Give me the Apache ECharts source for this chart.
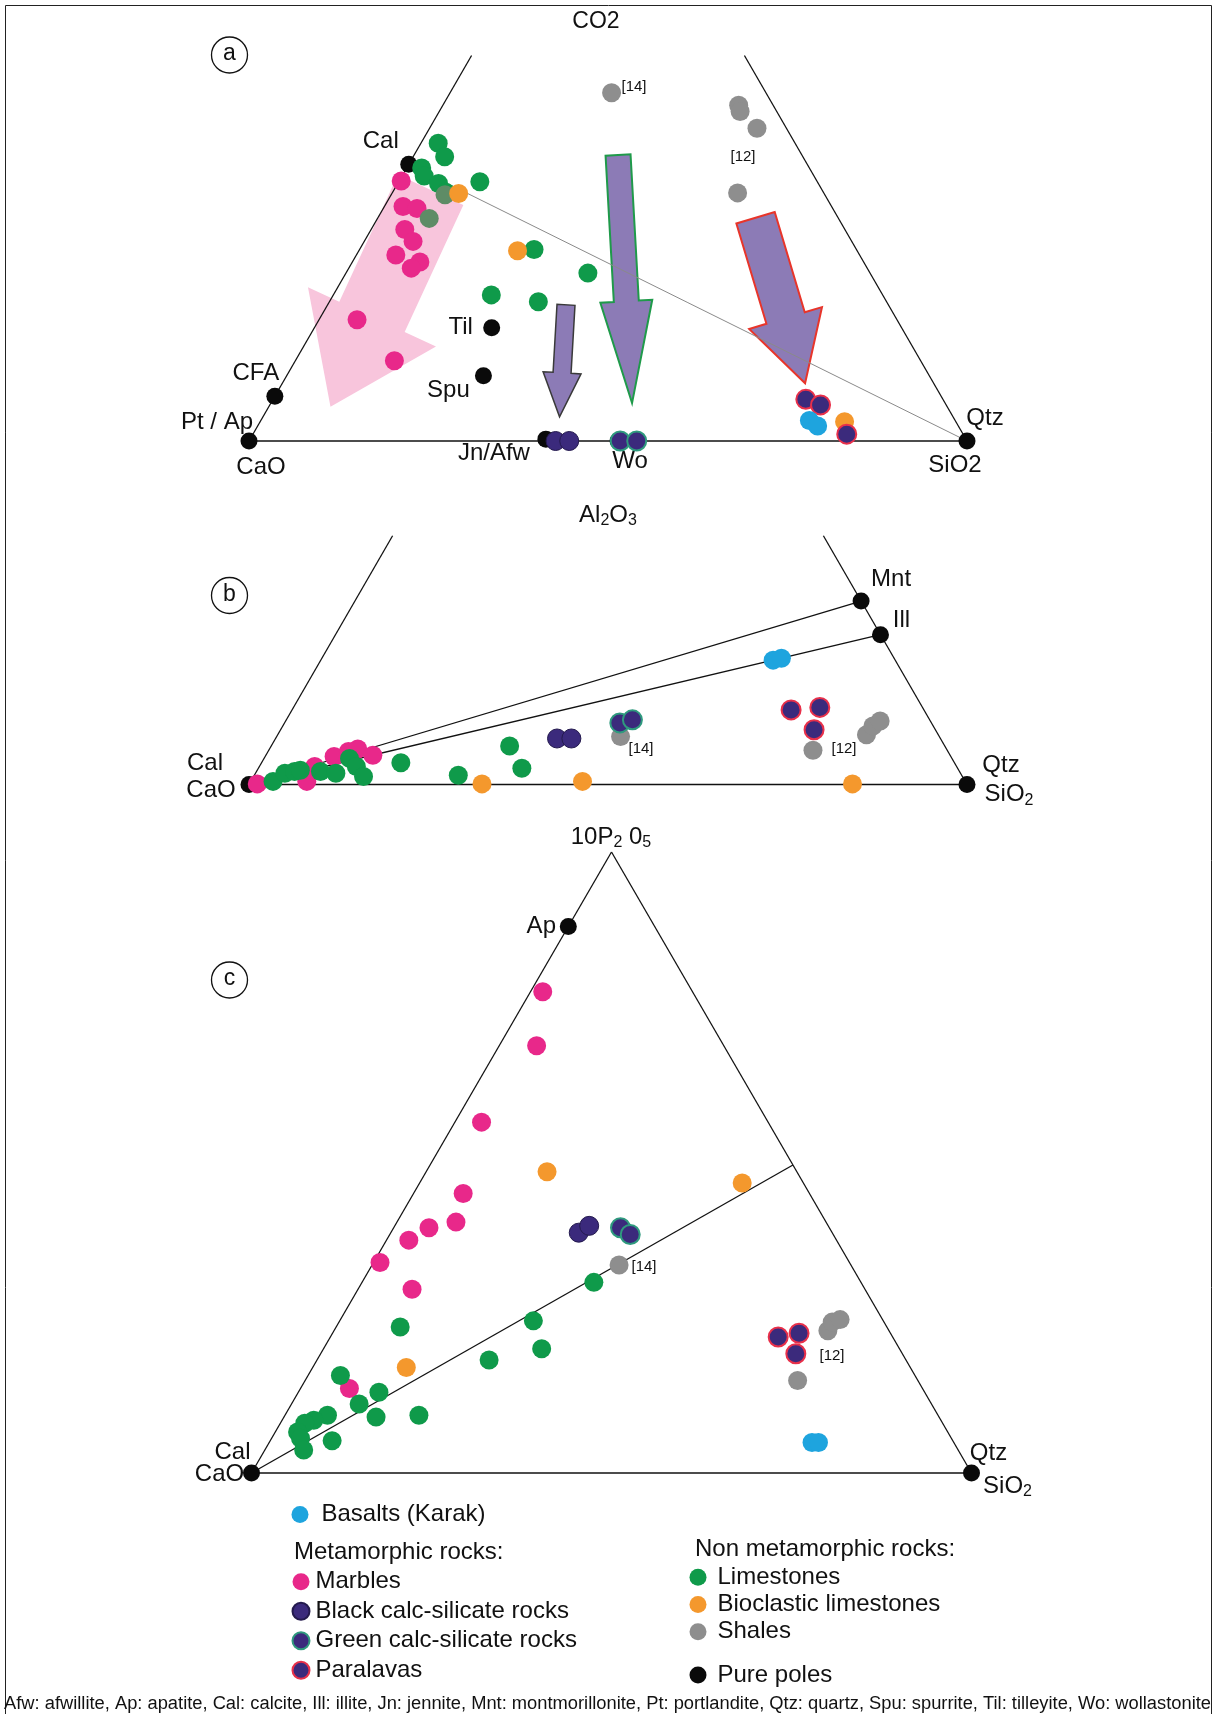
<!DOCTYPE html>
<html><head><meta charset="utf-8">
<script src="https://cdn.jsdelivr.net/npm/echarts@6/dist/echarts.min.js"></script>
<style>html,body{margin:0;padding:0;background:#fff}#chart{width:1215px;height:1714px}</style>
</head><body><div id="chart"></div>
<script>
// ===== DATA: ternary compositions in %, stored as [SiO2, top pole]; CaO = 100 - both =====
// Panel a : CaO - SiO2 - CO2
const marblesA = [[0.3,41.8],[2.6,37.7],[4.7,37.4],[4.7,34.0],[6.8,32.1],[5.5,29.9],[9.4,28.8],[8.7,27.8],[5.3,19.5],[13.8,12.9]];
const limestonesA = [[2.4,47.9],[4.4,45.7],[2.1,43.9],[3.1,42.6],[5.7,41.4],[7.4,40.0],[11.3,41.7],[24.3,30.8],[33.7,27.0],[22.0,23.5],[29.1,22.4]];
const limestonesMixedA = [[7.5,39.6],[7.2,35.8]];
const bioclasticA = [[9.3,39.8],[22.1,30.6],[81.4,3.1]];
const shalesA = [[22.5,56.0],[41.2,54.0],[41.9,53.0],[45.6,50.3],[48.1,39.9]];
const blackCalcA = [[42.7,0],[44.6,0]];
const greenCalcA = [[51.7,0],[54.0,0]];
const paralavasA = [[74.2,6.7],[76.7,5.8],[82.7,1.1]];
const basaltsA = [[76.4,3.3],[78.0,2.4]];
const poleNamesA = ['Pt / Ap','CFA','Cal','Til','Spu','Jn/Afw','Wo','Qtz'];
const polesA = [[0,0],[0,7.2],[0,44.5],[24.7,18.2],[27.4,10.5],[41.2,0.3],[51.4,0],[100,0]];
const tieLinesA = [[[0,44.5],[100,0]]];
const trendArrowsA = [[5.1,40.4,8.6,5.5],[33.2,21.9,41.3,3.9],[28.4,46.0,50.3,6.1],[52.6,35.9,72.8,9.3]];

// Panel b : CaO - SiO2 - Al2O3
const marblesB = [[1.1,0.1],[7.8,0.5],[7.7,2.9],[9.6,4.5],[11.2,5.3],[12.3,5.7],[14.9,4.7]];
const limestonesB = [[3.1,0.5],[4.1,1.8],[5.3,2.1],[6.0,2.3],[8.9,2.1],[11.2,1.8],[11.9,4.2],[13.5,2.9],[15.3,1.3],[19.4,3.5],[28.4,1.5],[33.2,6.2],[36.7,2.6]];
const bioclasticB = [[32.4,0.1],[46.2,0.5],[84.0,0.1]];
const shalesB = [[47.9,7.7],[82.0,8.0],[82.2,9.4],[82.8,10.2],[75.8,5.5]];
const blackCalcB = [[39.2,7.4],[41.2,7.4]];
const greenCalcB = [[46.7,9.9],[48.2,10.4]];
const paralavasB = [[69.5,12.0],[73.3,12.4],[74.3,8.8]];
const basaltsB = [[63.0,20.0],[64.0,20.3]];
const poleNamesB = ['Cal','Mnt','Ill','Qtz'];
const polesB = [[0,0],[70.5,29.5],[75.9,24.1],[100,0]];
const tieLinesB = [[[0,0],[70.5,29.5]],[[0,0],[75.9,24.1]]];

// Panel c : CaO - SiO2 - 10P2O5
const marblesC = [[1.7,77.5],[5.2,68.8],[3.7,56.5],[6.9,45.0],[8.2,40.4],[4.9,39.5],[3.1,37.5],[0.9,33.9],[7.5,29.6],[6.8,13.6]];
const limestonesC = [[8.9,23.5],[4.5,15.7],[9.4,11.1],[11.2,13.0],[12.8,9.0],[18.6,9.3],[5.9,9.3],[4.4,8.5],[3.4,8.0],[3.1,6.6],[4.0,5.6],[5.4,3.7],[8.6,5.2],[23.9,18.2],[30.3,20.0],[26.9,24.5],[32.2,30.7]];
const bioclasticC = [[16.8,48.5],[44.8,46.7],[13.0,17.0]];
const shalesC = [[34.3,33.5],[68.6,22.9],[68.5,24.3],[69.4,24.7],[68.4,14.9]];
const blackCalcC = [[26.1,38.7],[27.0,39.8]];
const greenCalcC = [[31.5,39.5],[33.4,38.4]];
const paralavasC = [[62.2,21.9],[64.8,22.5],[66.0,19.2]];
const basaltsC = [[75.4,4.9],[76.3,4.9]];
const poleNamesC = ['Cal','Ap','Qtz'];
const polesC = [[0,0],[0,88],[100,0]];
const tieLinesC = [[[0,0],[50.4,49.6]]];

const vertexNames = ['CaO','SiO2'];
const vertices = [[0,0],[100,0]];

const legendBasalt = ['Basalts (Karak)'];
const legendMeta = ['Marbles','Black calc-silicate rocks','Green calc-silicate rocks','Paralavas'];
const legendNonMeta = ['Limestones','Bioclastic limestones','Shales'];
const legendPoles = ['Pure poles'];
const footerText = 'Afw: afwillite, Ap: apatite, Cal: calcite, Ill: illite, Jn: jennite, Mnt: montmorillonite, Pt: portlandite, Qtz: quartz, Spu: spurrite, Til: tilleyite, Wo: wollastonite';

// ===== STYLE / LAYOUT =====
const FONT = "'Liberation Sans', Arial, Helvetica, sans-serif";
const INK = '#111111';
const PANELS = [
  { left: 249, width: 718, base: 441, fullH: 621.8, tmax: 62 },
  { left: 249, width: 718, base: 784.5, fullH: 621.8, tmax: 40 },
  { left: 251.5, width: 720, base: 1473, fullH: 621, tmax: 100 }
];
const CAT_STYLE = {
  'Marbles': { color: '#e8288a', opacity: 1 },
  'Limestones': { color: '#0f9a4a', opacity: 1 },
  'Bioclastic limestones': { color: '#f4982d', opacity: 1 },
  'Shales': { color: '#8e8e8e', opacity: 1 },
  'Black calc-silicate rocks': { color: '#3b2a7c', borderColor: '#241a4e', borderWidth: 1, opacity: 1 },
  'Green calc-silicate rocks': { color: '#3b2a7c', borderColor: '#2f9a7e', borderWidth: 2, opacity: 1 },
  'Paralavas': { color: '#3b2a7c', borderColor: '#e8304a', borderWidth: 2, opacity: 1 },
  'Basalts (Karak)': { color: '#1ea4de', opacity: 1 },
  'Pure poles': { color: '#0a0a0a', opacity: 1 }
};
const CAT_ORDER = ['Marbles','Limestones','Bioclastic limestones','Shales','Black calc-silicate rocks','Green calc-silicate rocks','Paralavas','Basalts (Karak)'];
const PANEL_DATA = [
  { 'Marbles': marblesA, 'Limestones': limestonesA, 'Bioclastic limestones': bioclasticA, 'Shales': shalesA, 'Black calc-silicate rocks': blackCalcA, 'Green calc-silicate rocks': greenCalcA, 'Paralavas': paralavasA, 'Basalts (Karak)': basaltsA },
  { 'Marbles': marblesB, 'Limestones': limestonesB, 'Bioclastic limestones': bioclasticB, 'Shales': shalesB, 'Black calc-silicate rocks': blackCalcB, 'Green calc-silicate rocks': greenCalcB, 'Paralavas': paralavasB, 'Basalts (Karak)': basaltsB },
  { 'Marbles': marblesC, 'Limestones': limestonesC, 'Bioclastic limestones': bioclasticC, 'Shales': shalesC, 'Black calc-silicate rocks': blackCalcC, 'Green calc-silicate rocks': greenCalcC, 'Paralavas': paralavasC, 'Basalts (Karak)': basaltsC }
];
const POLES = [[poleNamesA, polesA], [poleNamesB, polesB], [poleNamesC, polesC]];
const TIES = [tieLinesA, tieLinesB, tieLinesC];
const POLE_LABEL_OFFSET = [
  { 'Pt / Ap': [-32,-19], 'CFA': [-19,-23], 'Cal': [-28,-23], 'Til': [-31,0], 'Spu': [-35,15], 'Jn/Afw': [-52,14], 'Wo': [12,20], 'Qtz': [18,-23] },
  { 'Cal': [-44,-21], 'Mnt': [30,-22], 'Ill': [21,-14], 'Qtz': [34,-19] },
  { 'Cal': [-19,-21], 'Ap': [-27,0], 'Qtz': [17,-20] }
];
const VERTEX_LABEL_OFFSET = [ [[12,26],[-12,24]], [[-38,6],[42,10]], [[-32,1],[36,13]] ];
const VERTEX_SUB = [false, true, true];
const ARROW_STYLE = [
  { shaft: 72, head: 141, headLen: 99, fill: '#f8c5dc', stroke: 'rgba(0,0,0,0)', lw: 0 },
  { shaft: 18, head: 38, headLen: 44, fill: '#8c7bb6', stroke: '#3a3a3a', lw: 1.5 },
  { shaft: 25, head: 52, headLen: 102, fill: '#8c7bb6', stroke: '#1f9a4a', lw: 2 },
  { shaft: 40, head: 76, headLen: 68, fill: '#8c7bb6', stroke: '#e8352a', lw: 2 }
];
const RICH = {
  n: { fontSize: 24, fontFamily: FONT, color: INK, lineHeight: 28, verticalAlign: 'middle' },
  s: { fontSize: 16, fontFamily: FONT, color: INK, lineHeight: 16, verticalAlign: 'bottom' }
};

const tern = p => [p[0] + p[1] / 2, p[1]];

const grid = PANELS.map(p => ({ left: p.left, width: p.width, top: p.base - p.tmax * p.fullH / 100, height: p.tmax * p.fullH / 100 }));
const xAxis = PANELS.map((p, i) => ({ type: 'value', gridIndex: i, min: 0, max: 100, show: false }));
const yAxis = PANELS.map((p, i) => ({ type: 'value', gridIndex: i, min: 0, max: p.tmax, show: false }));

const series = [];
function line(gi, seg, color, width, z) {
  series.push({ type: 'line', xAxisIndex: gi, yAxisIndex: gi, data: seg.map(tern), symbol: 'none', silent: true, clip: false,
    lineStyle: { color: color, width: width, opacity: 1 }, z: z, animation: false });
}
// arrows (panel a)
series.push({
  type: 'custom', xAxisIndex: 0, yAxisIndex: 0, z: 1, silent: true, clip: false,
  data: trendArrowsA.map(a => tern([a[0], a[1]]).concat(tern([a[2], a[3]]))),
  renderItem: function (params, api) {
    const p0 = api.coord([api.value(0), api.value(1)]);
    const p1 = api.coord([api.value(2), api.value(3)]);
    const st = ARROW_STYLE[params.dataIndex];
    const dx = p1[0] - p0[0], dy = p1[1] - p0[1], L = Math.hypot(dx, dy);
    const ux = dx / L, uy = dy / L, nx = -uy, ny = ux;
    const bx = p1[0] - ux * st.headLen, by = p1[1] - uy * st.headLen;
    const sw = st.shaft / 2, hw = st.head / 2;
    const pts = [
      [p0[0] + nx * sw, p0[1] + ny * sw], [bx + nx * sw, by + ny * sw], [bx + nx * hw, by + ny * hw],
      [p1[0], p1[1]], [bx - nx * hw, by - ny * hw], [bx - nx * sw, by - ny * sw], [p0[0] - nx * sw, p0[1] - ny * sw]
    ];
    return { type: 'polygon', shape: { points: pts }, style: { fill: st.fill, stroke: st.stroke, lineWidth: st.lw, lineJoin: 'miter' } };
  }
});

PANELS.forEach((p, gi) => {
  TIES[gi].forEach(seg => line(gi, seg, gi === 0 ? '#8a8a8a' : INK, gi === 0 ? 1 : 1.3, 2));
  line(gi, [[0, 0], [100, 0]], INK, 1.6, 3);
  line(gi, [[0, 0], [0, p.tmax]], INK, 1.3, 3);
  line(gi, [[100, 0], [100 - p.tmax, p.tmax]], INK, 1.3, 3);
  const names = POLES[gi][0], vals = POLES[gi][1];
  series.push({
    type: 'scatter', name: 'Pure poles', xAxisIndex: gi, yAxisIndex: gi, z: 4, silent: true, symbolSize: 17,
    itemStyle: CAT_STYLE['Pure poles'],
    data: vals.map((v, i) => ({
      value: tern(v), name: names[i],
      label: { show: true, formatter: names[i], position: 'inside', offset: POLE_LABEL_OFFSET[gi][names[i]],
        color: INK, fontSize: 24, fontFamily: FONT }
    }))
  });
  series.push({
    type: 'scatter', name: 'vertex', xAxisIndex: gi, yAxisIndex: gi, z: 6, silent: true, symbolSize: 1,
    itemStyle: { color: 'rgba(0,0,0,0)', opacity: 1 },
    data: vertices.map((v, i) => ({
      value: tern(v),
      label: { show: true, position: 'inside', offset: VERTEX_LABEL_OFFSET[gi][i], color: INK, fontSize: 24, fontFamily: FONT, opacity: 1,
        formatter: (VERTEX_SUB[gi] && vertexNames[i] === 'SiO2') ? '{n|SiO}{s|2}' : vertexNames[i], rich: RICH }
    }))
  });
  CAT_ORDER.forEach(cat => {
    series.push({ type: 'scatter', name: cat, xAxisIndex: gi, yAxisIndex: gi, z: 5, silent: true, symbolSize: 19,
      itemStyle: CAT_STYLE[cat], data: PANEL_DATA[gi][cat].map(tern) });
    if (gi === 0 && cat === 'Limestones') {
      series.push({ type: 'scatter', name: 'Limestones (overlap)', xAxisIndex: 0, yAxisIndex: 0, z: 5, silent: true, symbolSize: 19,
        itemStyle: { color: '#5e8c66', opacity: 1 }, data: limestonesMixedA.map(tern) });
    }
  });
});

const legendText = { color: INK, fontSize: 24, fontFamily: FONT };
const legendBase = { orient: 'vertical', icon: 'circle', itemWidth: 17, itemHeight: 17, padding: 0, selectedMode: false, itemGap: 0 };
const legend = [
  Object.assign({}, legendBase, { data: legendBasalt, left: 291.5, top: 1502.5, textStyle: Object.assign({ lineHeight: 24, padding: [0, 0, 0, 8] }, legendText) }),
  Object.assign({}, legendBase, { data: legendMeta, left: 291.5, top: 1567, textStyle: Object.assign({ lineHeight: 29.5, padding: [0, 0, 0, 1] }, legendText) }),
  Object.assign({}, legendBase, { data: legendNonMeta, left: 689.5, top: 1563.5, textStyle: Object.assign({ lineHeight: 27.3, padding: [0, 0, 0, 6] }, legendText) }),
  Object.assign({}, legendBase, { data: legendPoles, left: 689.5, top: 1663, textStyle: Object.assign({ lineHeight: 24, padding: [0, 0, 0, 6] }, legendText) })
];

const mctx = document.createElement('canvas').getContext('2d');
mctx.font = '18px ' + FONT;
const footerScale = 1207 / mctx.measureText(footerText).width;

function txt(x, y, text, size, extra) {
  return Object.assign({ type: 'text', x: x, y: y, z: 10, silent: true,
    style: { text: text, fontSize: size, fontFamily: FONT, fill: INK, align: 'center', verticalAlign: 'middle', rich: RICH } }, extra || {});
}
function circ(cx, cy, letter) {
  return [
    { type: 'circle', z: 10, silent: true, shape: { cx: cx, cy: cy, r: 18 }, style: { fill: '#fff', stroke: INK, lineWidth: 1.3 } },
    txt(cx, cy - 1, letter, 23)
  ];
}
const graphic = [
  { type: 'rect', z: 0, silent: true, shape: { x: 5.5, y: 5.5, width: 1206, height: 1715 }, style: { fill: 'none', stroke: '#222', lineWidth: 1 } },
  txt(596, 22, 'CO2', 23),
  txt(608, 515, '{n|Al}{s|2}{n|O}{s|3}', 23),
  txt(611, 837, '{n|10P}{s|2}{n| 0}{s|5}', 23),
  txt(634, 87, '[14]', 15), txt(743, 157, '[12]', 15),
  txt(641, 749, '[14]', 15), txt(844, 749, '[12]', 15),
  txt(644, 1267, '[14]', 15), txt(832, 1356, '[12]', 15),
  ...circ(229.5, 55, 'a'), ...circ(229.5, 595.5, 'b'), ...circ(229.5, 980, 'c'),
  { type: 'text', x: 294, y: 1552, z: 10, silent: true, style: { text: 'Metamorphic rocks:', fontSize: 24, fontFamily: FONT, fill: INK, align: 'left', verticalAlign: 'middle' } },
  { type: 'text', x: 695, y: 1549, z: 10, silent: true, style: { text: 'Non metamorphic rocks:', fontSize: 24, fontFamily: FONT, fill: INK, align: 'left', verticalAlign: 'middle' } },
  { type: 'text', x: 4, y: 1704, scaleX: footerScale, z: 10, silent: true, style: { text: footerText, fontSize: 18, fontFamily: FONT, fill: INK, align: 'left', verticalAlign: 'middle' } }
];

const chart = echarts.init(document.getElementById('chart'));
chart.setOption({ animation: false, backgroundColor: '#fff', grid: grid, xAxis: xAxis, yAxis: yAxis, legend: legend, series: series, graphic: graphic });
</script></body></html>
